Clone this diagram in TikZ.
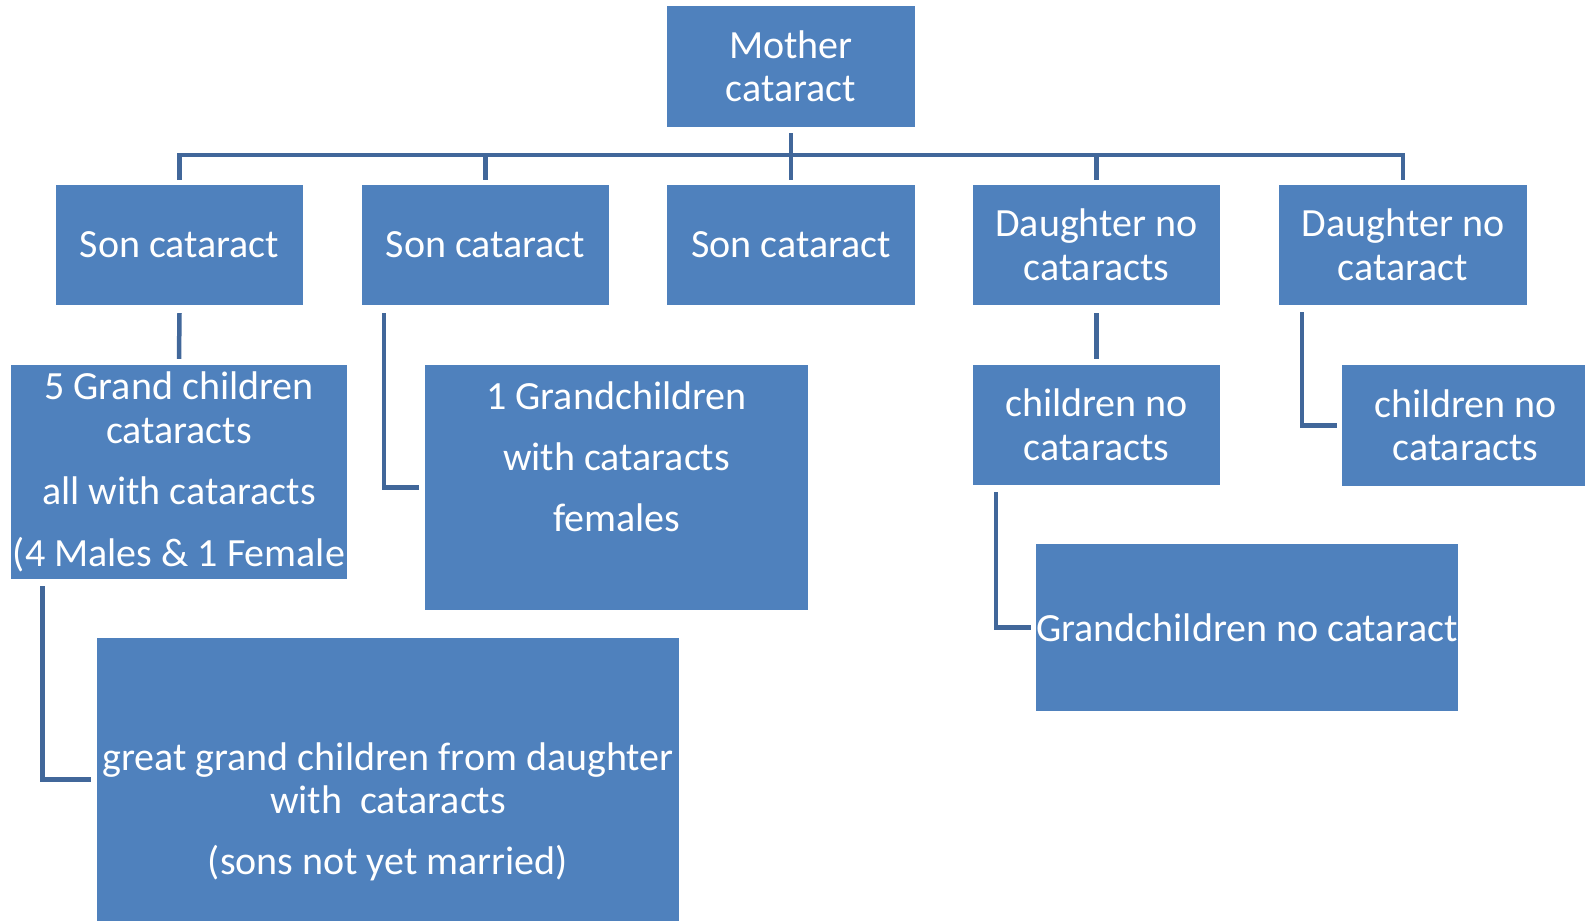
\documentclass[tikz,border=0pt]{standalone}
\usepackage{fontspec}
\setmainfont{Carlito}
\usetikzlibrary{calc}
\definecolor{boxblue}{HTML}{4F81BD}
\definecolor{linkblue}{HTML}{41679A}
\tikzset{
  blockbox/.style={fill=boxblue, text=white, inner sep=0pt, align=center,
    font=\fontsize{40}{43.5}\selectfont},
  link/.style={draw=linkblue, line width=4.5pt}
}
\begin{document}
\begin{tikzpicture}[x=1pt, y=-1pt]
			%%%%% FRAME %%%%%
			\useasboundingbox (0, 0) rectangle (1585, 921);
			\clip (0, 0) rectangle (1585, 921);
			
			%%%%% TOP %%%%%
			\node[blockbox, minimum width=248pt, minimum height=121pt] (mother) at (791, 66.5) {Mother\\cataract};
			
			%%%%% CHILDREN %%%%%
			\node[blockbox, minimum width=247pt, minimum height=120pt] (son1) at (179.5, 245) {Son cataract};
			\node[blockbox, minimum width=247pt, minimum height=120pt] (son2) at (485.5, 245) {Son cataract};
			\node[blockbox, minimum width=248pt, minimum height=120pt] (son3) at (791, 245) {Son cataract};
			\node[blockbox, minimum width=247pt, minimum height=120pt] (dau1) at (1096.5, 245) {Daughter no\\cataracts};
			\node[blockbox, minimum width=248pt, minimum height=120pt] (dau2) at (1403, 245) {Daughter no\\cataract};
			
			%%%%% GRANDCHILDREN %%%%%
			\node[blockbox, minimum width=336pt, minimum height=214pt] (grand1) at (179, 472) {5 Grand children\\cataracts\\[18pt]all with cataracts\\[18pt](4 Males \& 1 Female};
			\node[blockbox, minimum width=383pt, minimum height=245pt] (grand2) at (616.5, 487.5) {1 Grandchildren\\[17.5pt]with cataracts\\[17.5pt]females\\[17.5pt]~};
			\node[blockbox, minimum width=247pt, minimum height=120pt] (kids1) at (1096.5, 425) {children no\\cataracts};
			\node[blockbox, minimum width=247pt, minimum height=121pt] (kids2) at (1465.5, 425.5) {children no\\cataracts};
			\node[blockbox, minimum width=422pt, minimum height=167pt] (grand3) at (1247, 627.5) {Grandchildren no cataract};
			
			%%%%% GREAT GRANDCHILDREN %%%%%
			\node[blockbox, minimum width=582pt, minimum height=283pt] (great) at (388, 779.5) {~\\[49pt]great grand children from daughter\\with~~cataracts\\[17.5pt](sons not yet married)};
			
			%%%%% LINKS %%%%%
			\coordinate (bus) at (791, 155);
			\draw[link] ([yshift=-6pt]mother.south) -- ([yshift=5pt]son3.north);
			\draw[link] ([yshift=5pt]son1.north) |- (bus) -| ([yshift=5pt]dau2.north);
			\draw[link] ([yshift=5pt]son2.north) -- (son2.north |- bus);
			\draw[link] ([yshift=5pt]dau1.north) -- (dau1.north |- bus);
			
			\draw[link] ([yshift=-8pt]son1.south) -- ([yshift=6pt]grand1.north);
			\draw[link] ([yshift=-8pt]dau1.south) -- ([yshift=6pt]kids1.north);
			\draw[link] ([xshift=22pt, yshift=-8pt]son2.south west) |- ([xshift=-6pt]grand2.west);
			\draw[link] ([xshift=23pt, yshift=-7pt]dau2.south west) |- ([xshift=-5pt]kids2.west);
			\draw[link] ([xshift=23pt, yshift=-7pt]kids1.south west) |- ([xshift=-5pt]grand3.west);
			\draw[link] ([xshift=31.5pt, yshift=-7pt]grand1.south west) |- ([xshift=-6pt]great.west);
			
		\end{tikzpicture}
\end{document}
